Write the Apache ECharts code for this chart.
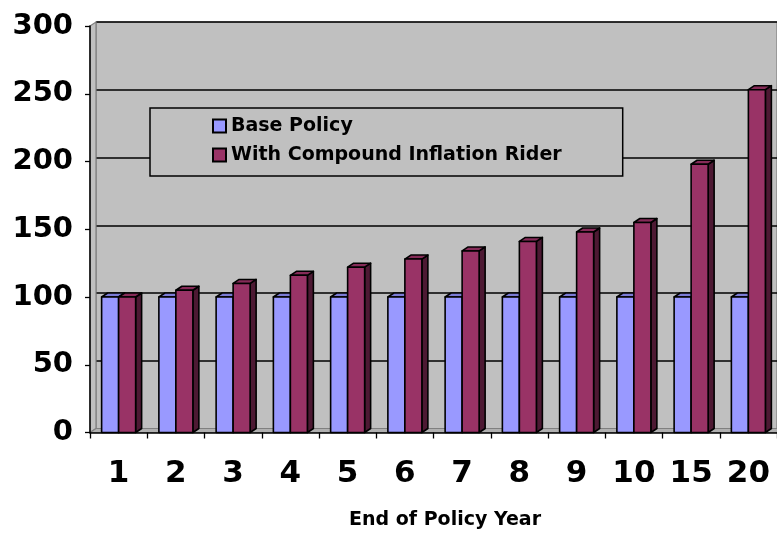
<!DOCTYPE html>
<html>
<head>
<meta charset="utf-8">
<script src="https://cdn.jsdelivr.net/npm/echarts@6/dist/echarts.min.js"></script>
<style>html,body{margin:0;padding:0;background:#fff}#c{width:777px;height:533px}</style>
</head>
<body>
<div id="c"></div>
<script>
var categories = ['1','2','3','4','5','6','7','8','9','10','15','20'];
var basePolicy = [100,100,100,100,100,100,100,100,100,100,100,100];
var withRider = [100,105,110,116,122,128,134,141,148,155,198,253];
var yTicks = [0,50,100,150,200,250,300];
var seriesNames = ['Base Policy','With Compound Inflation Rider'];

var DX = 6, DY = -4, BW = 17;
var FONT = '"DejaVu Sans", sans-serif';

function barRender(offsetSign, front, top, side) {
  return function (params, api) {
    var ci = api.value(0), v = api.value(1);
    var p0 = api.coord([ci, 0]);
    var p1 = api.coord([ci, v]);
    var x0 = offsetSign < 0 ? p0[0] - BW : p0[0];
    var x1 = x0 + BW;
    var yb = p0[1], yt = p1[1];
    var st = {stroke: '#000', lineWidth: 1.6, lineJoin: 'round'};
    return {
      type: 'group',
      children: [
        {type: 'polygon', shape: {points: [[x1, yt], [x1 + DX, yt + DY], [x1 + DX, yb + DY], [x1, yb]]},
         style: Object.assign({fill: side}, st)},
        {type: 'polygon', shape: {points: [[x0, yt], [x0 + DX, yt + DY], [x1 + DX, yt + DY], [x1, yt]]},
         style: Object.assign({fill: top}, st)},
        {type: 'rect', shape: {x: x0, y: yt, width: BW, height: yb - yt},
         style: Object.assign({fill: front}, st)}
      ]
    };
  };
}

function wallRender(params, api) {
  var cs = params.coordSys;
  var x = cs.x, y = cs.y, w = cs.width, h = cs.height;
  var st = {stroke: '#808080', lineWidth: 1.2};
  return {
    type: 'group',
    children: [
      {type: 'polygon', shape: {points: [[x, y], [x + DX, y + DY], [x + DX, y + h + DY], [x, y + h]]},
       style: Object.assign({fill: '#c0c0c0'}, st)},
      {type: 'polygon', shape: {points: [[x, y + h], [x + DX, y + h + DY], [x + w + DX, y + h + DY], [x + w, y + h]]},
       style: Object.assign({fill: '#b0b0b0'}, st)}
    ]
  };
}

var chart = echarts.init(document.getElementById('c'), null, {renderer: 'canvas'});
var gridLeft = 90, gridTop = 26, gridRight = -7.8, gridBottom = 100.5;
chart.setOption({
  animation: false,
  backgroundColor: '#fff',
  textStyle: {fontFamily: FONT},
  grid: [
    {left: gridLeft, top: gridTop, right: gridRight, bottom: gridBottom, containLabel: false},
    {left: gridLeft + DX, top: gridTop + DY, right: gridRight - DX, bottom: gridBottom - DY,
     show: true, backgroundColor: '#c0c0c0', borderColor: '#808080', borderWidth: 1.2}
  ],
  xAxis: [
    {type: 'category', gridIndex: 0, data: categories, boundaryGap: true,
     axisLine: {show: true, lineStyle: {color: '#000', width: 1.5}},
     axisTick: {show: true, length: 6, lineStyle: {color: '#000', width: 1.3}},
     axisLabel: {color: '#000', fontSize: 31, fontWeight: 'bold', fontFamily: FONT, margin: 26, interval: 0},
     splitLine: {show: false}, z: 10},
    {type: 'category', gridIndex: 1, data: categories, show: false}
  ],
  yAxis: [
    {type: 'value', gridIndex: 0, min: yTicks[0], max: yTicks[yTicks.length - 1], interval: 50,
     axisLine: {show: true, lineStyle: {color: '#000', width: 1.5}},
     axisTick: {show: true, length: 5, lineStyle: {color: '#000', width: 1.3}},
     axisLabel: {color: '#000', fontSize: 29, fontWeight: 'bold', fontFamily: FONT, margin: 17},
     splitLine: {show: false}, z: 10},
    {type: 'value', gridIndex: 1, min: yTicks[0], max: yTicks[yTicks.length - 1], interval: 50,
     axisLine: {show: false}, axisTick: {show: false}, axisLabel: {show: false},
     splitLine: {show: true, lineStyle: {color: '#000', width: 1.6}}}
  ],
  legend: {
    data: seriesNames,
    orient: 'vertical',
    left: 150, top: 108,
    padding: [8, 61, 11, 62],
    itemWidth: 13, itemHeight: 13, itemGap: 9,
    icon: 'rect',
    backgroundColor: '#c0c0c0',
    borderColor: '#000', borderWidth: 1.5, borderRadius: 0,
    textStyle: {color: '#000', fontSize: 19, fontWeight: 'bold', fontFamily: FONT, lineHeight: 20},
    selectedMode: false, z: 20
  },
  series: [
    {type: 'custom', name: 'walls', xAxisIndex: 0, yAxisIndex: 0, data: [[0, 0]], renderItem: wallRender,
     z: 1, silent: true, clip: false},
    {type: 'custom', name: seriesNames[0], xAxisIndex: 0, yAxisIndex: 0,
     data: basePolicy.map(function (v, i) { return [i, v]; }),
     encode: {x: 0, y: 1},
     itemStyle: {color: '#9999ff', borderColor: '#000', borderWidth: 1},
     renderItem: barRender(-1, '#9999ff', '#7b7bd6', '#4d4d80'), z: 3, clip: false},
    {type: 'custom', name: seriesNames[1], xAxisIndex: 0, yAxisIndex: 0,
     data: withRider.map(function (v, i) { return [i, v]; }),
     encode: {x: 0, y: 1},
     itemStyle: {color: '#993366', borderColor: '#000', borderWidth: 1},
     renderItem: barRender(1, '#993366', '#862b58', '#4d1933'), z: 4, clip: false}
  ],
  graphic: [
    {type: 'text', x: 445, y: 520,
     style: {text: 'End of Policy Year', fill: '#000', font: 'bold 19px ' + FONT,
             textAlign: 'center', textVerticalAlign: 'middle'}}
  ]
});
</script>
</body>
</html>
